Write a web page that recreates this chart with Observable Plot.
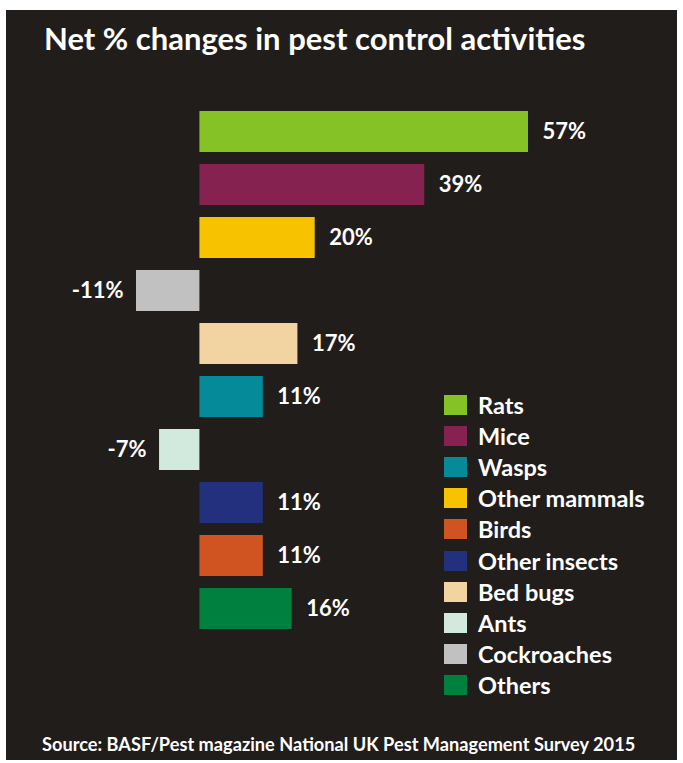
<!DOCTYPE html>
<html><head><meta charset="utf-8">
<script src="https://cdn.jsdelivr.net/npm/d3@7"></script>
<script src="https://cdn.jsdelivr.net/npm/@observablehq/plot@0.6"></script>
<style>
html,body{margin:0;padding:0;background:#fff;}
#wrap{position:relative;width:683px;height:763px;overflow:hidden;font-family:Lato,"Open Sans",sans-serif;}
#panel{position:absolute;left:6px;top:10px;width:671px;height:750px;background:#211d1b;}
#title{position:absolute;left:44px;top:20px;color:#fff;font-weight:700;font-size:31px;line-height:36px;white-space:nowrap;}
#chart{position:absolute;left:0;top:90px;}
#legend{position:absolute;left:444px;top:389.5px;}
.row{display:flex;align-items:center;height:31.1px;}
.sw{width:23px;height:20px;margin-right:11px;flex:none;}
.lab{color:#fff;font-weight:700;font-size:23.5px;line-height:24px;white-space:nowrap;}
#source{position:absolute;left:42px;top:733px;color:#fff;font-weight:700;font-size:18.2px;line-height:22px;white-space:nowrap;}
</style></head>
<body>
<div id="wrap">
  <div id="panel"></div>
  <div id="title"></div>
  <div id="chart"></div>
  <div id="legend"></div>
  <div id="source"></div>
</div>
<script>
// ---- data ----
const categories = ["Rats","Mice","Other mammals","Cockroaches","Bed bugs","Wasps","Ants","Other insects","Birds","Others"];
const values = [57, 39, 20, -11, 17, 11, -7, 11, 11, 16];
const colors = ["#85c226","#862250","#f7c200","#c1c1c1","#f2d4a3","#058a99","#d2e9dd","#22307d","#d05322","#00803e"];
const legendOrder = ["Rats","Mice","Wasps","Other mammals","Birds","Other insects","Bed bugs","Ants","Cockroaches","Others"];
const titleText = "Net % changes in pest control activities";
const sourceText = "Source: BASF/Pest magazine National UK Pest Management Survey 2015";

const data = categories.map((c, i) => ({name: c, value: values[i]}));
const colorOf = Object.fromEntries(categories.map((c, i) => [c, colors[i]]));

document.getElementById("title").textContent = titleText;
document.getElementById("source").textContent = sourceText;

const fontFamily = "Lato, 'Open Sans', sans-serif";
const chart = Plot.plot({
  width: 683,
  height: 560,
  marginTop: 21,
  marginBottom: 20,
  marginLeft: 136,
  marginRight: 155,
  style: {background: "transparent", color: "#fff", overflow: "visible", fontFamily},
  x: {domain: [-11, 57], axis: null},
  y: {domain: categories, axis: null, paddingInner: 0.226, paddingOuter: 0},
  color: {domain: categories, range: colors},
  marks: [
    Plot.barX(data, {x: "value", y: "name", fill: "name"}),
    Plot.text(data.filter(d => d.value >= 0), {
      x: "value", y: "name", text: d => d.value + "%",
      textAnchor: "start", dx: 14, fill: "#fff", fontSize: 22, fontWeight: 700, fontFamily
    }),
    Plot.text(data.filter(d => d.value < 0), {
      x: "value", y: "name", text: d => d.value + "%",
      textAnchor: "end", dx: -13, fill: "#fff", fontSize: 22, fontWeight: 700, fontFamily
    })
  ]
});
document.getElementById("chart").appendChild(chart);

const legend = document.getElementById("legend");
for (const name of legendOrder) {
  const row = document.createElement("div");
  row.className = "row";
  const sw = document.createElement("div");
  sw.className = "sw";
  sw.style.background = colorOf[name];
  const lab = document.createElement("div");
  lab.className = "lab";
  lab.textContent = name;
  row.appendChild(sw);
  row.appendChild(lab);
  legend.appendChild(row);
}
</script>
</body></html>
